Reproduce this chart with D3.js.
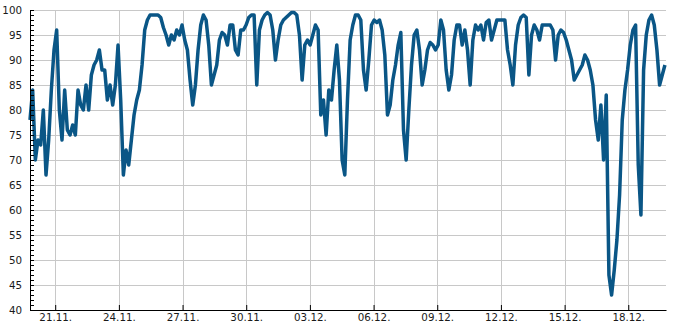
<!DOCTYPE html>
<html>
<head>
<meta charset="utf-8">
<script src="https://cdn.jsdelivr.net/npm/d3@7"></script>
<style>
  body { margin: 0; background: #fff; }
  svg text { font-family: "DejaVu Sans", sans-serif; font-size: 10.3px; }
</style>
</head>
<body>
<div id="app"></div>
<script>
// series: one reading roughly every 3 hours
const startTime = new Date(2023, 10, 19, 19, 30)
const endTime = new Date(2023, 11, 19, 18, 40)
const stepMinutes = 181

const values = [
  78, 84, 70, 74, 73, 80, 67, 74, 84, 92,
  96, 80, 74, 84, 76, 75, 77, 75, 84, 81,
  80, 85, 80, 87, 89, 90, 92, 88, 88, 82,
  85, 81, 85, 93, 82, 67, 72, 69, 74, 79,
  82, 84, 89, 96, 98, 99, 99, 99, 99, 98.5,
  96.5, 95, 93, 95, 94, 96, 95, 97, 94, 92,
  86, 81, 85, 92, 97, 99, 98, 93, 85, 87,
  89, 94, 95.5, 95, 93, 97, 97, 92, 91, 96,
  96, 97, 98.5, 99, 99, 85, 96, 98, 99, 99.5,
  99, 96, 90, 94, 97, 98, 98.5, 99, 99.5, 99.5,
  99, 95, 86, 93, 94, 93, 95, 97, 96, 79,
  82, 75, 84, 82, 88, 93, 86, 70, 67, 82,
  94, 97, 99, 99, 98, 88, 84, 90, 97, 98,
  97.5, 98, 96, 91, 79, 81, 86, 89, 93, 95.5,
  76, 70, 80, 89, 95, 96, 92, 85, 88, 92,
  93.5, 93, 92, 93, 98, 96, 88, 84, 87, 94,
  97, 97, 93, 96, 92, 85, 94, 97, 96, 97,
  94, 97.5, 98, 94, 96, 98, 98, 98, 98, 92,
  89, 85, 93, 97, 98.5, 99, 98.5, 87, 95, 97,
  96, 94, 97, 97, 97, 97, 96, 90, 95, 96,
  95.5, 94, 92, 90, 86, 87, 88, 89, 91, 90,
  88, 85, 78, 74, 81, 70, 83, 47, 43, 48,
  54, 63, 78, 84, 88, 93, 96, 97, 69, 59,
  88, 95, 98, 99, 97, 92, 85, 87, 89
]

const tickDays = ["2023-11-21", "2023-11-24", "2023-11-27", "2023-11-30", "2023-12-03",
  "2023-12-06", "2023-12-09", "2023-12-12", "2023-12-15", "2023-12-18"]
const yMajor = d3.range(40, 101, 5)
const yMinor = d3.range(40, 101, 1)

const width = 685
const height = 330
const marginLeft = 30
const plotRight = 666
const plotTop = 10
const plotBottom = 310

const parseDay = d3.timeParse("%Y-%m-%d")
const ticks = tickDays.map(parseDay)
const data = values.map((v, i) => ({ t: d3.timeMinute.offset(startTime, i * stepMinutes), v }))

const x = d3.scaleTime().domain([startTime, endTime]).range([marginLeft, plotRight])
const y = d3.scaleLinear().domain([40, 100]).range([plotBottom, plotTop])

const svg = d3.select('#app').append('svg')
  .attr('width', width)
  .attr('height', height)

// grid
svg.append('g')
  .selectAll('line')
  .data(yMajor)
  .join('line')
  .attr('x1', marginLeft).attr('x2', plotRight)
  .attr('y1', d => y(d) + 0.5).attr('y2', d => y(d) + 0.5)
  .attr('stroke', '#c8c8c8')

svg.append('g')
  .selectAll('line')
  .data(ticks)
  .join('line')
  .attr('x1', d => Math.round(x(d)) + 0.5).attr('x2', d => Math.round(x(d)) + 0.5)
  .attr('y1', plotTop).attr('y2', plotBottom)
  .attr('stroke', '#c8c8c8')

// line
svg.append('path')
  .datum(data)
  .attr('fill', 'none')
  .attr('stroke', '#0a5686')
  .attr('stroke-width', 3.5)
  .attr('stroke-linejoin', 'round')
  .attr('d', d3.line().x(d => x(d.t)).y(d => y(d.v)))

// axes
svg.append('g')
  .attr('transform', `translate(${marginLeft},0)`)
  .call(d3.axisLeft(y)
    .tickValues(yMinor)
    .tickSize(-4)
    .tickSizeOuter(0)
    .tickPadding(8)
    .tickFormat(d => d % 5 === 0 ? d : ''))

svg.append('g')
  .attr('transform', `translate(0,${plotBottom})`)
  .call(d3.axisBottom(x)
    .tickValues(ticks)
    .tickSize(-5)
    .tickSizeOuter(0)
    .tickPadding(4)
    .tickFormat(d3.timeFormat("%d.%m.")))

svg.selectAll('.tick text').attr('fill', '#1a1a1a')
</script>
</body>
</html>
